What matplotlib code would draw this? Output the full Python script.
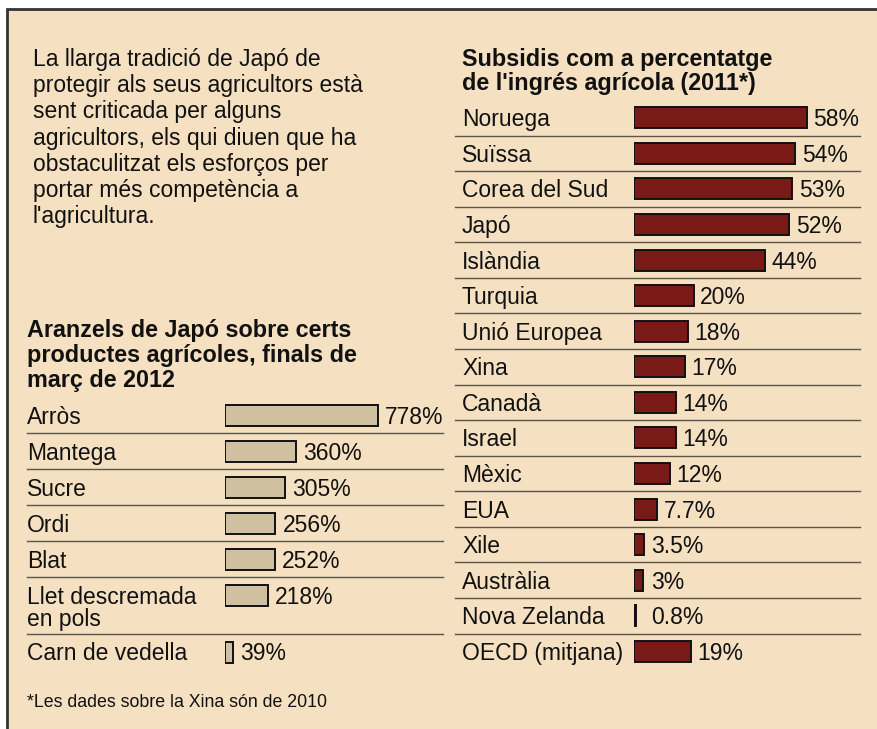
"""Japanese farm protection: tariffs and subsidies (Catalan infographic)."""

import matplotlib.pyplot as plt
from matplotlib.patches import Rectangle

plt.rcParams["font.family"] = ["Liberation Sans", "DejaVu Sans"]

W, H = 877, 729
BG = "#F5E1C1"
RED = "#7A1A16"
TAN = "#CFC0A0"
INK = "#111111"
RULE = "#5b5548"

# data
intro = ["La llarga tradició de Japó de", "protegir als seus agricultors està",
         "sent criticada per alguns", "agricultors, els qui diuen que ha",
         "obstaculitzat els esforços per", "portar més competència a", "l'agricultura."]
tariff_title = ["Aranzels de Japó sobre certs", "productes agrícoles, finals de", "març de 2012"]
tariff_items = ["Arròs", "Mantega", "Sucre", "Ordi", "Blat", "Llet descremada\nen pols", "Carn de vedella"]
tariff_vals = [778, 360, 305, 256, 252, 218, 39]

subsidy_title = ["Subsidis com a percentatge", "de l'ingrés agrícola (2011*)"]
countries = ["Noruega", "Suïssa", "Corea del Sud", "Japó", "Islàndia", "Turquia",
             "Unió Europea", "Xina", "Canadà", "Israel", "Mèxic", "EUA", "Xile",
             "Austràlia", "Nova Zelanda", "OECD (mitjana)"]
subsidy_vals = [58, 54, 53, 52, 44, 20, 18, 17, 14, 14, 12, 7.7, 3.5, 3, 0.8, 19]
footnote = "*Les dades sobre la Xina són de 2010"

fig = plt.figure(figsize=(W / 100, H / 100), dpi=100, facecolor="white")


def px_axes(x0, y0, x1, y1):
    return fig.add_axes([x0 / W, 1 - y1 / H, (x1 - x0) / W, (y1 - y0) / H])


# background in pixel coordinates
bg = px_axes(0, 0, W, H)
bg.set_xlim(0, W)
bg.set_ylim(H, 0)
bg.axis("off")
bg.add_patch(Rectangle((7, 9), W + 10, H + 10, facecolor=BG, edgecolor="#333333", lw=2))

fs = 16.5
CAP = 8.5  # half cap height in px, centre -> baseline
for k, line in enumerate(intro):
    bg.text(33, 66 + 26.2 * k, line, fontsize=fs, va="baseline", color=INK)
for k, line in enumerate(tariff_title):
    bg.text(27, 337 + 25.2 * k, line, fontsize=16.8, weight="bold", va="baseline", color=INK)
for k, line in enumerate(subsidy_title):
    bg.text(462, 65.5 + 24.5 * k, line, fontsize=16.8, weight="bold", va="baseline", color=INK)
bg.text(27, 707, footnote, fontsize=12.8, va="baseline", color=INK)

# left chart: tariffs
row_h = [36, 36, 36, 36, 36, 57, 36]
top = 397
tops = []
for h in row_h:
    tops.append(top)
    top += h
bar_y = [t + 18 for t in tops]
for t in tops[1:]:
    bg.plot([27, 443], [t, t], color=RULE, lw=1)
for y, lab in zip(bar_y, tariff_items):
    for j, part in enumerate(lab.split("\n")):
        bg.text(27, y + CAP + 22.5 * j, part, fontsize=fs, va="baseline", color=INK)

axl = px_axes(225, 397, 443, 670)
axl.set_xlim(0, 218 / 0.1967)
axl.set_ylim(670, 397)
axl.axis("off")
axl.barh(bar_y, tariff_vals, height=21, color=TAN, edgecolor=INK, lw=1.4)
for y, v in zip(bar_y, tariff_vals):
    axl.text(v + 36, y + CAP, f"{v}%", fontsize=fs, va="baseline", color=INK)

# right chart: subsidies
rh = 35.57
rows_y = [100 + rh * (i + 0.5) for i in range(len(countries))]
for i in range(1, len(countries)):
    y = 100 + rh * i
    bg.plot([455, 860], [y, y], color=RULE, lw=1)
for y, lab in zip(rows_y, countries):
    bg.text(462, y + CAP, lab, fontsize=fs, va="baseline", color=INK)

axr = px_axes(634, 100, 877, 670)
axr.set_xlim(0, 243 / 2.983)
axr.set_ylim(670, 100)
axr.axis("off")
axr.barh(rows_y, subsidy_vals, height=21, color=RED, edgecolor=INK, lw=1.4)
for y, v in zip(rows_y, subsidy_vals):
    axr.text(max(v, 3.5) + 2.2, y + CAP, f"{v:g}%", fontsize=fs, va="baseline", color=INK)

fig.savefig("out.png", dpi=100, facecolor="white")
